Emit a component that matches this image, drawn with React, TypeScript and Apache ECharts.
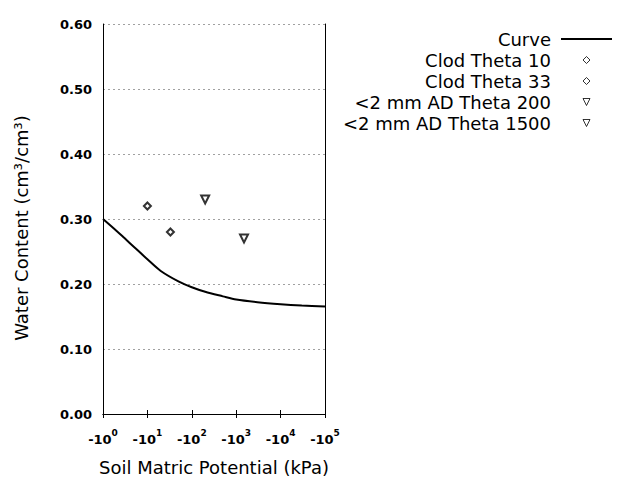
import React, { useEffect, useRef } from 'react';
import * as echarts from 'echarts';

// Soil matric potential (kPa, magnitude) and water content along the fitted curve
const potentialKPa = [1, 2, 3, 5, 10, 20, 50, 100, 200, 500, 1000, 3000, 10000, 30000, 100000];
const curveTheta = [0.300, 0.282, 0.271, 0.257, 0.238, 0.220, 0.204, 0.195, 0.188, 0.181, 0.176, 0.172, 0.169, 0.167, 0.1655];

// Measured points [potential, theta]
const clodTheta10 = [[10, 0.32]];
const clodTheta33 = [[33, 0.28]];
const adTheta200 = [[200, 0.33]];
const adTheta1500 = [[1500, 0.27]];

const seriesNames = ['Curve', 'Clod Theta 10', 'Clod Theta 33', '<2 mm AD Theta 200', '<2 mm AD Theta 1500'];

const yMin = 0;
const yMax = 0.6;
const yStep = 0.1;
const xMin = 1;
const xMax = 100000;

const diamondIcon = 'path://M0,-1L1,0L0,1L-1,0Z';
const downTriangleIcon = 'path://M-1,-1L1,-1L0,1Z';

export default function App() {
  const ref = useRef<HTMLDivElement>(null);
  useEffect(() => {
    if (!ref.current) return;
    const chart = echarts.init(ref.current, null, { renderer: 'svg' });
    const font = 'DejaVu Sans';
    const curveData = potentialKPa.map((p, i) => [p, curveTheta[i]]);
    const hollow = { color: '#fff', borderColor: '#000', borderWidth: 1 };
    chart.setOption({
      animation: false,
      backgroundColor: '#ffffff',
      grid: { left: 103, right: 315, top: 24, bottom: 66, containLabel: false, outerBoundsMode: 'none' },
      legend: {
        orient: 'vertical',
        align: 'right',
        right: 22,
        top: 25,
        itemWidth: 51,
        itemHeight: 7,
        itemGap: 3,
        symbolKeepAspect: true,
        symbolRotate: 0,
        data: [
          { name: seriesNames[0], itemStyle: { opacity: 0 } },
          { name: seriesNames[1], icon: diamondIcon, itemStyle: hollow },
          { name: seriesNames[2], icon: diamondIcon, itemStyle: hollow },
          { name: seriesNames[3], icon: downTriangleIcon, itemStyle: hollow },
          { name: seriesNames[4], icon: downTriangleIcon, itemStyle: hollow },
        ],
        textStyle: { fontFamily: font, fontSize: 18, color: '#000', padding: [0, 5, 0, 0] },
      },
      xAxis: [
        {
          type: 'log',
          logBase: 10,
          min: xMin,
          max: xMax,
          position: 'bottom',
          name: 'Soil Matric Potential (kPa)',
          nameLocation: 'middle',
          nameGap: 44,
          nameTextStyle: { fontFamily: font, fontSize: 18, color: '#000' },
          axisLine: { show: true, lineStyle: { color: '#000', width: 1 } },
          axisTick: { show: true, inside: true, length: 4, lineStyle: { color: '#000' } },
          minorTick: { show: false },
          splitLine: { show: false },
          axisLabel: {
            margin: 14,
            color: '#000',
            formatter: (v: number) => `{b|-10}{s|${Math.round(Math.log10(v))}}`,
            rich: {
              b: { fontFamily: font, fontSize: 13, fontWeight: 'bold', color: '#000', padding: [5, 0, 0, 0] },
              s: { fontFamily: font, fontSize: 9, fontWeight: 'bold', color: '#000', verticalAlign: 'top' },
            },
          },
        },
        {
          type: 'log',
          logBase: 10,
          min: xMin,
          max: xMax,
          position: 'top',
          axisLine: { show: true, lineStyle: { color: '#000', width: 1 } },
          axisTick: { show: true, inside: true, length: 4, lineStyle: { color: '#000' } },
          axisLabel: { show: false },
          splitLine: { show: false },
        },
      ],
      yAxis: [
        {
          type: 'value',
          min: yMin,
          max: yMax,
          interval: yStep,
          position: 'left',
          name: 'Water Content (cm³/cm³)',
          nameLocation: 'middle',
          nameGap: 73,
          nameTextStyle: { fontFamily: font, fontSize: 18, color: '#000', padding: [0, 18, 0, 0] },
          axisLine: { show: true, lineStyle: { color: '#000', width: 1 } },
          axisTick: { show: false },
          splitLine: { show: true, lineStyle: { color: '#a0a0a0', type: [2, 3], width: 1 } },
          axisLabel: {
            margin: 11,
            color: '#000',
            fontFamily: font,
            fontSize: 13,
            fontWeight: 'bold',
            formatter: (v: number) => v.toFixed(2),
          },
        },
        {
          type: 'value',
          min: yMin,
          max: yMax,
          interval: yStep,
          position: 'right',
          axisLine: { show: true, lineStyle: { color: '#000', width: 1 } },
          axisTick: { show: false },
          axisLabel: { show: false },
          splitLine: { show: false },
        },
      ],
      series: [
        {
          name: seriesNames[0],
          type: 'line',
          data: curveData,
          symbol: 'none',
          smooth: 0.3,
          lineStyle: { color: '#000', width: 2 },
          itemStyle: { color: '#000' },
        },
        {
          name: seriesNames[1],
          type: 'scatter',
          data: clodTheta10,
          symbol: 'emptyDiamond',
          symbolSize: 7,
          itemStyle: { color: '#000', borderColor: '#000', borderWidth: 1 },
        },
        {
          name: seriesNames[2],
          type: 'scatter',
          data: clodTheta33,
          symbol: 'emptyDiamond',
          symbolSize: 7,
          itemStyle: { color: '#000', borderColor: '#000', borderWidth: 1 },
        },
        {
          name: seriesNames[3],
          type: 'scatter',
          data: adTheta200,
          symbol: 'emptyTriangle',
          symbolRotate: 180,
          symbolSize: 8,
          itemStyle: { color: '#000', borderColor: '#000', borderWidth: 1 },
        },
        {
          name: seriesNames[4],
          type: 'scatter',
          data: adTheta1500,
          symbol: 'emptyTriangle',
          symbolRotate: 180,
          symbolSize: 8,
          itemStyle: { color: '#000', borderColor: '#000', borderWidth: 1 },
        },
      ],
    });
    return () => chart.dispose();
  }, []);
  return (
    <div
      ref={ref}
      style={{ position: 'fixed', left: 0, top: 0, width: 640, height: 480, background: '#fff' }}
    />
  );
}
